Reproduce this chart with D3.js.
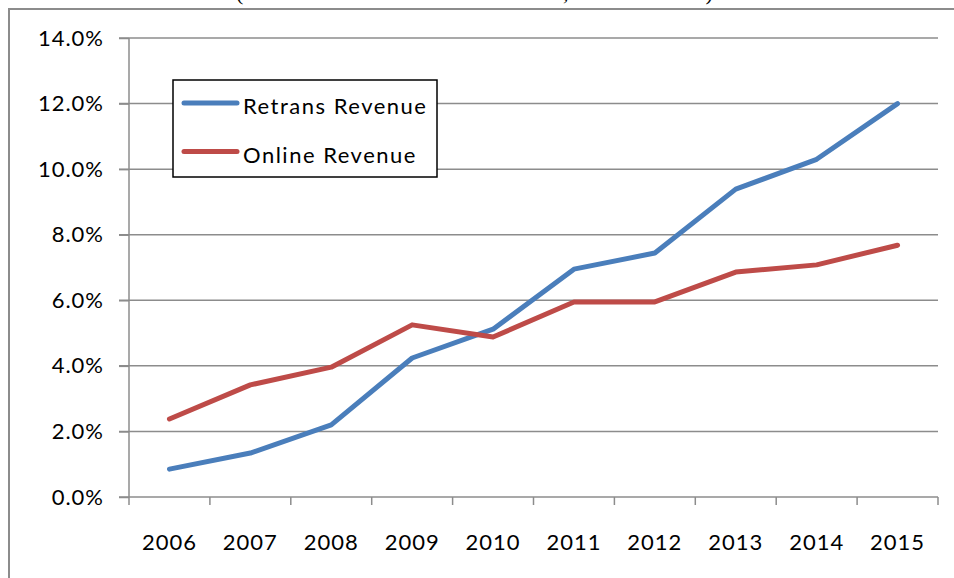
<!DOCTYPE html>
<html>
<head>
<meta charset="utf-8">
<script src="https://cdn.jsdelivr.net/npm/d3@7"></script>
<style>
  body { margin: 0; background: #fff; }
  text { font-family: Lato, "Open Sans", sans-serif; fill: #000; }
</style>
</head>
<body>
<script>
// Retrans vs online revenue share, 2006-2015

const width = 954;
const height = 578;

const years = ["2006", "2007", "2008", "2009", "2010", "2011", "2012", "2013", "2014", "2015"];
const retrans = [0.85, 1.34, 2.2, 4.24, 5.12, 6.95, 7.44, 9.39, 10.3, 12.0];
const online = [2.38, 3.42, 3.96, 5.25, 4.88, 5.95, 5.95, 6.86, 7.08, 7.68];
const yTicks = [0, 2, 4, 6, 8, 10, 12, 14];
const seriesNames = ["Retrans Revenue", "Online Revenue"];
const seriesColors = ["#4a7ebb", "#be4b48"];

const svg = d3.select("body")
    .append("svg")
    .attr("width", width)
    .attr("height", height);

const margin = { left: 129, right: 16, top: 38, bottom: 81 };

const x = d3.scaleBand()
    .domain(years)
    .range([margin.left, width - margin.right]);

const y = d3.scaleLinear()
    .domain([0, 14])
    .range([height - margin.bottom, margin.top]);

// title, mostly cut off by the top edge as in the source
svg.append("text")
    .attr("x", 236)
    .attr("y", 0)
    .style("font-family", "'Liberation Serif', serif")
    .style("font-size", "22px")
    .style("letter-spacing", "1px")
    .text("(As a % of Total Station Revenue, Index = 2006)");

// outer frame
svg.append("path")
    .attr("d", `M9,${height} V9 H${width}`)
    .attr("fill", "none")
    .attr("stroke", "#8c8c8c")
    .attr("stroke-width", 2);

// gridlines
svg.append("g")
    .selectAll("line")
    .data(yTicks.slice(1))
    .join("line")
    .attr("x1", margin.left - 10)
    .attr("x2", width - margin.right)
    .attr("y1", d => y(d))
    .attr("y2", d => y(d))
    .attr("stroke", "#8c8c8c")
    .attr("stroke-width", 1.5);

// y axis
const yAxis = svg.append("g")
    .attr("transform", `translate(${margin.left},0)`)
    .call(d3.axisLeft(y).tickValues(yTicks).tickSize(10).tickPadding(15)
        .tickFormat(d => d.toFixed(1) + "%"));
yAxis.selectAll("path, line").attr("stroke", "#8c8c8c").attr("stroke-width", 1.5);
yAxis.select(".domain").attr("d", `M0,${y(14)}V${y(0)}`);
yAxis.selectAll("text")
    .style("font-size", "22px")
    .style("letter-spacing", "1px")
    .style("font-family", "Lato, sans-serif");

// x axis: ticks on band edges
const xAxisG = svg.append("g")
    .attr("transform", `translate(0,${y(0)})`);
xAxisG.append("line")
    .attr("x1", margin.left - 10)
    .attr("x2", width - margin.right)
    .attr("stroke", "#8c8c8c")
    .attr("stroke-width", 1.5);
xAxisG.selectAll(".tk")
    .data(years.concat(["end"]))
    .join("line")
    .attr("class", "tk")
    .attr("x1", (d, i) => margin.left + i * x.step())
    .attr("x2", (d, i) => margin.left + i * x.step())
    .attr("y1", 0)
    .attr("y2", 8)
    .attr("stroke", "#8c8c8c")
    .attr("stroke-width", 1.5);
xAxisG.selectAll(".lbl")
    .data(years)
    .join("text")
    .attr("class", "lbl")
    .attr("x", d => x(d) + x.bandwidth() / 2)
    .attr("y", 53)
    .attr("text-anchor", "middle")
    .style("font-size", "22px")
    .style("letter-spacing", "1px")
    .text(d => d);

// lines
const line = d3.line()
    .x((d, i) => x(years[i]) + x.bandwidth() / 2)
    .y(d => y(d));

[retrans, online].forEach((vals, k) => {
    svg.append("path")
        .datum(vals)
        .attr("d", line)
        .attr("fill", "none")
        .attr("stroke", seriesColors[k])
        .attr("stroke-width", 5)
        .attr("stroke-linejoin", "round")
        .attr("stroke-linecap", "round");
});

// legend
const legend = svg.append("g");
legend.append("rect")
    .attr("x", 173)
    .attr("y", 80)
    .attr("width", 264)
    .attr("height", 97)
    .attr("fill", "#fff")
    .attr("stroke", "#000")
    .attr("stroke-width", 1.5);
seriesNames.forEach((name, k) => {
    const ly = 103 + k * 48.5;
    legend.append("line")
        .attr("x1", 184).attr("x2", 237)
        .attr("y1", ly).attr("y2", ly)
        .attr("stroke", seriesColors[k])
        .attr("stroke-width", 5)
        .attr("stroke-linecap", "round");
    legend.append("text")
        .attr("x", 243)
        .attr("y", ly + 11)
        .style("font-size", "22px")
        .style("letter-spacing", "1.5px")
        .text(name);
});
</script>
</body>
</html>
